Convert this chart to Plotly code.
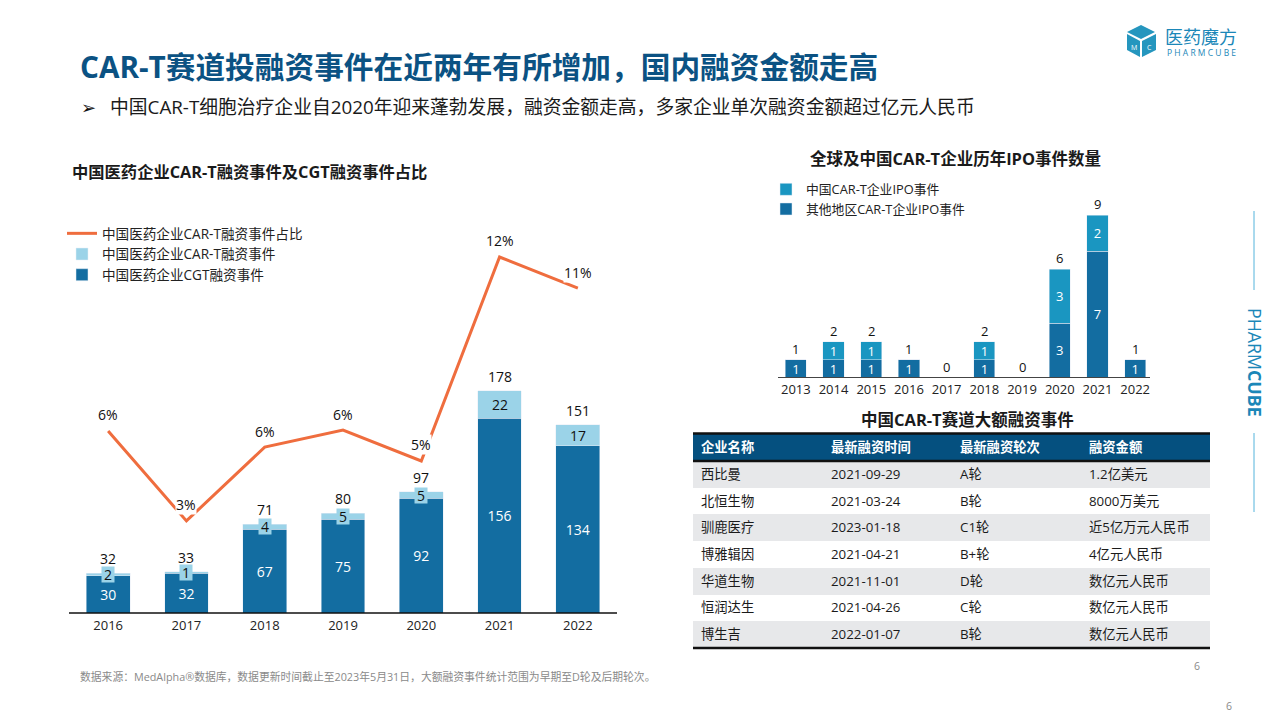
import plotly.graph_objects as go

FONT = "Open Sans, Noto Sans CJK SC"

# left chart
years = ["2016", "2017", "2018", "2019", "2020", "2021", "2022"]
cgt_events = [30, 32, 67, 75, 92, 156, 134]
cart_events = [2, 1, 4, 5, 5, 22, 17]
total_events = [32, 33, 71, 80, 97, 178, 151]
cart_share = [6.07, 3.07, 5.53, 6.1, 5.07, 11.87, 10.83]
share_labels = ["6%", "3%", "6%", "6%", "5%", "12%", "11%"]

# right chart
ipo_years = ["2013", "2014", "2015", "2016", "2017", "2018", "2019", "2020", "2021", "2022"]
ipo_china = [0, 1, 1, 0, 0, 1, 0, 3, 2, 0]
ipo_other = [1, 1, 1, 1, 0, 1, 0, 3, 7, 1]
ipo_total = [1, 2, 2, 1, 0, 2, 0, 6, 9, 1]

# table
table_head = ["企业名称", "最新融资时间", "最新融资轮次", "融资金额"]
companies = ["西比曼", "北恒生物", "驯鹿医疗", "博雅辑因", "华道生物", "恒润达生", "博生吉"]
dates = ["2021-09-29", "2021-03-24", "2023-01-18", "2021-04-21", "2021-11-01", "2021-04-26", "2022-01-07"]
rounds = ["A轮", "B轮", "C1轮", "B+轮", "D轮", "C轮", "B轮"]
amounts = ["1.2亿美元", "8000万美元", "近5亿万元人民币", "4亿元人民币", "数亿元人民币", "数亿元人民币", "数亿元人民币"]


# the page body has an 8px margin, so the figure is 1272x712 and starts at (8, 8)
def px(x):
    return (x - 8) / 1272


def py(y):
    return 1 - (y - 8) / 712


def note(text, x, y, size=13, color="#1a1a1a", bold=False, anchor="left", **kw):
    if bold:
        text = "<b>" + text + "</b>"
    return dict(
        text=text, x=px(x), y=py(y), xref="paper", yref="paper", showarrow=False,
        xanchor=anchor, yanchor="middle", font=dict(size=size, color=color, family=FONT), **kw
    )


fig = go.Figure()

# left chart traces
fig.add_trace(go.Bar(
    x=years, y=cgt_events, name="中国医药企业CGT融资事件", marker_color="#136DA1",
    text=cgt_events, textposition="inside", textangle=0, insidetextanchor="middle", constraintext="none",
    textfont=dict(color="white", size=14), legendrank=3, width=0.56
))
fig.add_trace(go.Bar(
    x=years, y=cart_events, name="中国医药企业CAR-T融资事件", marker_color="#9BD3E8",
    legendrank=2, width=0.56
))
fig.add_trace(go.Scatter(
    x=years, y=cart_share, name="中国医药企业CAR-T融资事件占比", mode="lines",
    line=dict(color="#EF6D3E", width=3), yaxis="y2", legendrank=1
))

# right chart traces
fig.add_trace(go.Bar(
    x=ipo_years, y=ipo_other, name="其他地区CAR-T企业IPO事件", marker_color="#136DA1",
    xaxis="x2", yaxis="y3", legend="legend2", legendrank=2, width=0.56,
    text=[v if v else "" for v in ipo_other], textposition="inside", textangle=0, constraintext="none",
    insidetextanchor="middle", textfont=dict(color="white", size=13)
))
fig.add_trace(go.Bar(
    x=ipo_years, y=ipo_china, name="中国CAR-T企业IPO事件", marker_color="#1A96C1",
    xaxis="x2", yaxis="y3", legend="legend2", legendrank=1, width=0.56,
    text=[v if v else "" for v in ipo_china], textposition="inside", textangle=0, constraintext="none",
    insidetextanchor="middle", textfont=dict(color="white", size=13)
))

# table, bold goes through font weight: <b> tags make the header row grow
fig.add_trace(go.Table(
    domain=dict(x=[px(693), px(1210)], y=[py(648.5), py(434)]),
    columnwidth=[130, 129, 129, 129],
    header=dict(
        values=table_head, height=27, align="left", fill_color="#05507F", line_width=0,
        font=dict(color="white", size=13.3, family=FONT, weight="bold")
    ),
    cells=dict(
        values=[companies, dates, rounds, amounts], height=26.7, align="left",
        fill_color=[["#E7E8EA", "white"] * 3 + ["#E7E8EA"]], line_width=0,
        font=dict(color="#1a1a1a", size=13.3, family=FONT)
    )
))

annotations = []

for i, year in enumerate(years):
    annotations.append(dict(
        x=i, y=cgt_events[i] + cart_events[i] / 2, xref="x", yref="y", text=str(cart_events[i]),
        showarrow=False, bgcolor="#9BD3E8", borderpad=0, height=15, width=12 if cart_events[i] < 10 else 22,
        font=dict(size=14, color="#111", family=FONT)
    ))
    annotations.append(dict(
        x=i, y=total_events[i], xref="x", yref="y", text=str(total_events[i]),
        showarrow=False, yshift=15, height=14, borderpad=0, font=dict(size=14, color="#111", family=FONT)
    ))
    annotations.append(dict(
        x=i, y=cart_share[i], xref="x", yref="y2", text=share_labels[i],
        showarrow=False, yshift=16, bgcolor="white", borderpad=0,
        font=dict(size=14, color="#111", family=FONT)
    ))

for i, year in enumerate(ipo_years):
    annotations.append(dict(
        x=i, y=ipo_total[i], xref="x2", yref="y3", text=str(ipo_total[i]),
        showarrow=False, yshift=11, font=dict(size=13, color="#111", family=FONT)
    ))

# page texts
annotations += [
    note("CAR-T赛道投融资事件在近两年有所增加，国内融资金额走高", 78, 66, size=29.7, color="#0B5283", bold=True),
    note("➢", 79, 107, size=18, color="#111"),
    note("中国CAR-T细胞治疗企业自2020年迎来蓬勃发展，融资金额走高，多家企业单次融资金额超过亿元人民币", 108, 107, size=18.8),
    note("中国医药企业CAR-T融资事件及CGT融资事件占比", 70, 172, size=16.3, bold=True),
    note("全球及中国CAR-T企业历年IPO事件数量", 955.5, 159, size=16.5, bold=True, anchor="center"),
    note("中国CAR-T赛道大额融资事件", 967, 419, size=16.5, bold=True, anchor="center"),
    note("数据来源：MedAlpha®数据库，数据更新时间截止至2023年5月31日，大额融资事件统计范围为早期至D轮及后期轮次。",
         78, 676, size=10.8, color="#8a8a8a"),
    note("6", 1197, 666, size=10.5, color="#8a8a8a", anchor="center"),
    note("6", 1229, 706, size=10.5, color="#8a8a8a", anchor="center"),
    note("PHARM<b>CUBE</b>", 1255, 362, size=17.8, color="#1B87B8", anchor="center", textangle=90),
    note("医药魔方", 1201, 37, size=18, color="#1B87B8", anchor="center"),
    note("P H A R M C U B E", 1201, 53, size=8.5, color="#1B87B8", anchor="center"),
    note("M", 1134, 47, size=7, color="white", anchor="center"),
    note("C", 1149, 47, size=7, color="white", anchor="center"),
]


def poly(points, color):
    path = "M" + " L".join(f"{px(x):.5f},{py(y):.5f}" for x, y in points) + " Z"
    return dict(type="path", path=path, xref="paper", yref="paper", fillcolor=color, line_width=0)


def rule(x0, y0, x1, y1, color, width):
    return dict(type="line", x0=px(x0), y0=py(y0), x1=px(x1), y1=py(y1), xref="paper", yref="paper",
                line=dict(color=color, width=width))


shapes = [
    rule(69, 613, 617, 613, "#111", 1.5),
    rule(778, 377.5, 1150, 377.5, "#444", 1),
    rule(693, 433.5, 1210, 433.5, "#111", 2.5),
    rule(693, 461, 1210, 461, "#111", 2.5),
    rule(693, 648, 1210, 648, "#111", 2.5),
    rule(1254, 211, 1254, 290, "#55B4DC", 1),
    rule(1254, 433, 1254, 512, "#55B4DC", 1),
    poly([(1141, 25), (1155, 32), (1141, 39), (1127, 32)], "#2596BE"),
    poly([(1127, 34), (1140, 41), (1140, 57), (1127, 50)], "#2596BE"),
    poly([(1142, 41), (1156, 34), (1156, 50), (1142, 57)], "#2596BE"),
]

fig.update_layout(
    width=1272, height=712, margin=dict(l=0, r=0, t=0, b=0),
    paper_bgcolor="white", plot_bgcolor="white", barmode="stack",
    font=dict(family=FONT, color="#1a1a1a"),
    annotations=annotations, shapes=shapes,
    xaxis=dict(domain=[px(69), px(617)], type="category", categoryorder="array", categoryarray=years,
               range=[-0.5, 6.5], autorange=False, ticklen=0, showgrid=False, showline=False,
               ticklabelstandoff=3, tickfont=dict(size=13, color="#222"), fixedrange=True),
    yaxis=dict(domain=[py(613), py(230)], range=[0, 307], visible=False, fixedrange=True),
    yaxis2=dict(domain=[py(613), py(230)], range=[0, 12.77], overlaying="y", visible=False, fixedrange=True),
    xaxis2=dict(domain=[px(777), px(1154)], type="category", categoryorder="array", categoryarray=ipo_years,
                range=[-0.5, 9.5], autorange=False, ticklen=0, showgrid=False, showline=False,
                anchor="y3", ticklabelstandoff=2, tickfont=dict(size=13, color="#222"), fixedrange=True),
    yaxis3=dict(domain=[py(377.5), py(200)], range=[0, 9.86], anchor="x2", visible=False, fixedrange=True),
    legend=dict(x=px(62), y=py(218), xanchor="left", yanchor="top", traceorder="normal",
                font=dict(size=13.6, color="#222"), bgcolor="rgba(0,0,0,0)"),
    legend2=dict(x=px(766), y=py(174.5), xanchor="left", yanchor="top", traceorder="normal",
                 font=dict(size=12.8, color="#222"), bgcolor="rgba(0,0,0,0)"),
)

fig.write_html("out.html")
